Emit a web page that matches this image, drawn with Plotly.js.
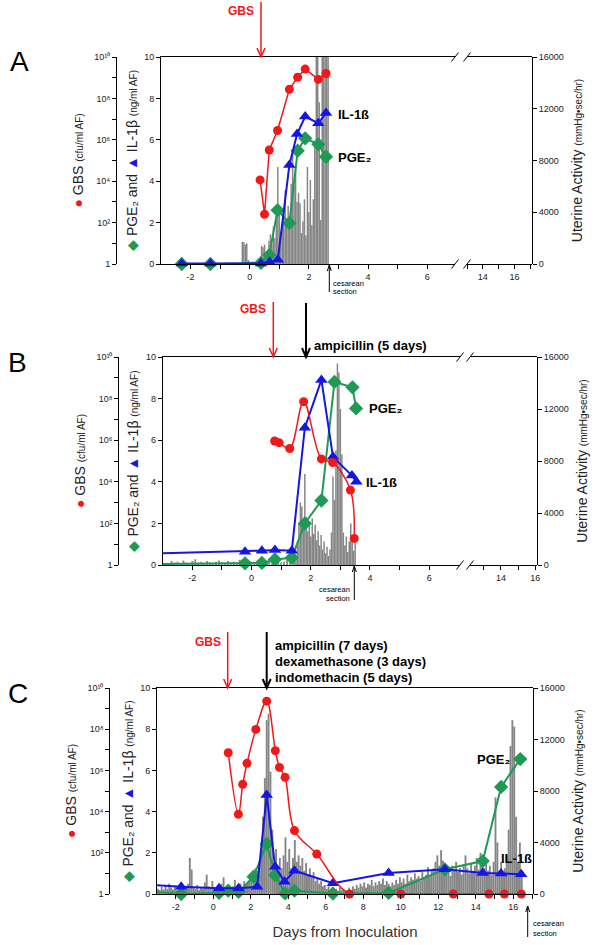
<!DOCTYPE html>
<html><head><meta charset="utf-8">
<script src="https://cdn.plot.ly/plotly-3.0.1.min.js"></script>
<style>html,body{margin:0;padding:0;background:#fff}#chart{width:600px;height:945px}</style>
</head><body><div id="chart"></div>
<script>
// ---------------- DATA ----------------
// Panel A
const gbsDaysA = [0.35, 0.5, 0.66, 0.94, 1.34, 1.62, 1.875, 2.32, 2.58];
const gbsCfuA  = [1.15e4, 2.5e2, 3.2e5, 2.8e6, 2.75e8, 1.05e9, 2.6e9, 8.3e8, 1.6e9];
const ilDaysA  = [-2.3, -1.33, 0.38, 0.67, 0.95, 1.34, 1.6, 1.875, 2.32, 2.58];
const ilValsA  = [0.03, 0.03, 0.03, 0.1, 0.2, 4.78, 6.28, 7.12, 6.8, 7.3];
const pgeDaysA = [-2.3, -1.33, 0.38, 0.66, 0.94, 1.34, 1.62, 1.875, 2.32, 2.58];
const pgeValsA = [0, 0, 0.05, 0.43, 2.6, 1.97, 5.47, 6.07, 5.78, 5.18];
const uaStartA = -0.25, uaStepA = 0.05;
const uaValsA = [1700,1700,1500,1600,300,200,150,200,150,200,250,200,300,1400,1300,1500,800,1000,1800,2300,
  1500,2900,2000,3500,7500,3800,2500,3000,4200,5700,3500,4500,3000,6200,8800,6000,7500,4800,5500,4700,
  2400,3300,5000,2200,7500,4000,6500,3000,5000,9500,16500,16500,12500,3400,16500,16500,16500,16500,16500];

// Panel B
const gbsDaysB = [0.78, 0.93, 1.29, 1.76, 2.36, 2.74, 3.34, 3.47];
const gbsCfuB  = [9.1e5, 7.6e5, 4.0e5, 7.1e7, 1.26e5, 8.5e4, 4.0e3, 19];
const ilDaysB  = [-3, -0.22, 0.35, 0.79, 1.36, 1.8, 2.36, 2.75, 3.39, 3.54];
const ilValsB  = [0.57, 0.64, 0.69, 0.72, 0.69, 6.6, 8.9, 5.2, 4.3, 4.0];
const pgeDaysB = [-3, -0.22, 0.35, 0.79, 1.36, 1.8, 2.36, 2.8, 3.41, 3.53];
const pgeValsB = [0.05, 0.08, 0.1, 0.27, 0.35, 2.0, 3.1, 8.8, 8.54, 7.53];
const uaBaseStartB = -2.8, uaBaseStepB = 0.1;
const uaBaseValsB = [150,300,200,250,100,350,200,150,300,450,200,250,150,300,200,100,250,350,200,150,300,
  200,250,150,400,200,300,150,250,200,350,150,200,300,250,150,200,300,200,250,400,500];
const uaStartB = 1.4, uaStepB = 0.05;
const uaValsB = [700,1100,600,1500,3200,4800,4500,3000,7000,3700,2600,3300,2200,3600,2400,3100,1900,2600,
  1500,2300,1200,1800,900,1400,700,1200,2500,6800,5000,8800,15500,14800,12000,8500,2500,1500,2200,1000,
  1800,3200,1900,1100,2100];

// Panel C
const gbsDaysC = [0.8, 1.34, 1.57, 1.8, 2.27, 2.85, 3.31, 3.53, 3.83, 4.33, 5.52, 7.27, 10.0, 12.8, 14.7, 15.53, 16.43];
const gbsCfuC  = [7.2e6, 7.4e3, 2.1e5, 2.2e6, 9.8e7, 2.3e9, 9.1e6, 1.4e6, 4.6e5, 1.2e3, 87, 1, 1, 1, 1, 1, 1];
const ilDaysC  = [-3, -1.71, 0.31, 1.35, 2.34, 2.85, 3.3, 3.8, 4.33, 6.38, 9.35, 12.35, 14.37, 15.35, 16.42];
const ilValsC  = [0.42, 0.35, 0.28, 0.28, 0.35, 4.8, 1.32, 0.6, 1.13, 0.52, 1.02, 1.2, 1.02, 1.0, 0.96];
const pgeDaysC = [-3, -1.71, 0.31, 0.8, 1.35, 2.15, 2.85, 3.3, 3.83, 4.33, 6.38, 9.35, 12.35, 14.37, 15.35, 16.37];
const pgeValsC = [0.1, 0.0, 0.06, 0.16, 0.1, 0.84, 2.43, 0.92, 0.03, 0.16, 0.02, 0.05, 1.2, 1.6, 5.2, 6.55];
const uaStartC = -2.95, uaStepC = 0.1;
const uaValsC = [400,300,550,350,700,400,800,500,350,600,300,500,400,300,600,450,800,2800,1900,500,
  400,700,300,500,400,900,1500,600,400,1000,500,300,600,400,800,1300,500,400,700,500,
  600,1100,400,600,800,500,1000,700,900,1200,1500,1400,2000,1800,2500,3500,6000,9000,13500,14000,
  9500,5000,2500,3500,1800,2800,2000,3000,4400,2500,3500,2000,2800,4200,2500,3000,2200,2800,1800,2400,
  1500,2000,1300,1700,1000,1200,800,1000,600,700,400,600,300,500,300,400,250,500,300,400,
  200,300,500,300,600,400,700,500,800,600,900,500,800,700,1100,600,900,700,1000,800,
  1200,700,1000,800,600,900,700,1100,800,1300,900,1200,800,1500,1000,1300,1100,1600,1200,1400,
  1000,1700,1300,1500,2100,1400,1800,2000,2500,3000,2200,3400,2600,2000,1600,1900,1400,2200,1800,2500,
  1700,2000,1500,2300,3000,2000,1600,2400,1800,2200,2800,1900,3200,2400,2000,2600,1800,2200,1500,2500,
  7500,4000,1800,2500,1500,2000,3000,5000,11500,13500,13000,6000,2500,4000,1500];

const xLabelVals = [-2, 0, 2, 4, 6];
const xMinorVals = [-1, 1, 3, 5];
const xLabelValsC = [-2, 0, 2, 4, 6, 8, 10, 12, 14, 16];
const xMinorValsC = [-1, 1, 3, 5, 7, 9, 11, 13, 15, 17];
const gbsTickVals = [1, 1e2, 1e4, 1e6, 1e8, 1e10];
const gbsTickText = ['1', '10\u00B2', '10\u2074', '10\u2076', '10\u2078', '10\u00B9\u2070'];
const gbsMinorVals = [1e1, 1e3, 1e5, 1e7, 1e9];
const pgeTickVals = [0, 2, 4, 6, 8, 10];
const uaTickVals = [0, 4000, 8000, 12000, 16000];

// ---------------- STYLE ----------------
const W = 600, H = 945;
const FONT = 'Liberation Sans, Arial, sans-serif';
const RED = '#f01818', BLUE = '#1515e6', GREEN = '#1f9a55', GRAY = '#858585';
const PGE = 'PGE\u2082';
const fx = p => p / W, fy = p => 1 - p / H;
const seq = (start, step, n) => Array.from({length: n}, (_, i) => +(start + i * step).toFixed(4));

function bars(xs, ys, xa, ya, w) {
  return {type: 'bar', x: xs, y: ys, xaxis: xa, yaxis: ya, width: w,
    marker: {color: GRAY, line: {width: 0}}, hoverinfo: 'skip', showlegend: false};
}
function series(xs, ys, xa, ya, color, symbol, size, lw, shape, hideFirst) {
  const sizes = xs.map((_, i) => (hideFirst && i === 0) ? 0 : size);
  return {type: 'scatter', mode: 'lines+markers', x: xs, y: ys, xaxis: xa, yaxis: ya,
    line: {color: color, width: lw, shape: shape || 'linear', smoothing: 1},
    marker: {color: color, symbol: symbol, size: sizes, opacity: 1, line: {width: 0}},
    cliponaxis: false, showlegend: false, hoverinfo: 'skip'};
}
function holder(xa, ya) {
  return {type: 'scatter', mode: 'markers', x: [], y: [], xaxis: xa, yaxis: ya, showlegend: false, hoverinfo: 'skip'};
}

const traces = [
  // A
  bars(seq(uaStartA, uaStepA, uaValsA.length), uaValsA, 'x', 'y', 0.05),
  holder('x2', 'y'),
  series(pgeDaysA, pgeValsA, 'x', 'y2', GREEN, 'diamond', 11, 2),
  series(ilDaysA, ilValsA, 'x', 'y2', BLUE, 'triangle-up', 11, 2),
  series(gbsDaysA, gbsCfuA, 'x', 'y3', RED, 'circle', 9, 1.5),
  // B
  bars(seq(uaBaseStartB, uaBaseStepB, uaBaseValsB.length), uaBaseValsB, 'x3', 'y4', 0.06),
  bars(seq(uaStartB, uaStepB, uaValsB.length), uaValsB, 'x3', 'y4', 0.05),
  holder('x4', 'y4'),
  series(pgeDaysB, pgeValsB, 'x3', 'y5', GREEN, 'diamond', 11, 2, 'linear', true),
  series(ilDaysB, ilValsB, 'x3', 'y5', BLUE, 'triangle-up', 11, 2, 'linear', true),
  series(gbsDaysB, gbsCfuB, 'x3', 'y6', RED, 'circle', 9, 1.5, 'spline'),
  // C
  bars(seq(uaStartC, uaStepC, uaValsC.length), uaValsC, 'x5', 'y7', 0.1),
  series(pgeDaysC, pgeValsC, 'x5', 'y8', GREEN, 'diamond', 11, 2, 'linear', true),
  series(ilDaysC, ilValsC, 'x5', 'y8', BLUE, 'triangle-up', 11, 2, 'linear', true),
  series(gbsDaysC, gbsCfuC, 'x5', 'y9', RED, 'circle', 9, 1.5, 'spline')
];

const tickFont = {family: FONT, size: 9, color: '#222'};
const minorTicks = vals => ({tickmode: 'array', tickvals: vals, ticks: 'outside', ticklen: 4, tickwidth: 1, tickcolor: '#000', showgrid: false});
const axBase = {showline: true, linecolor: '#000', linewidth: 1, ticks: 'outside', ticklen: 4,
  tickwidth: 1, tickcolor: '#000', showgrid: false, zeroline: false, tickfont: tickFont,
  automargin: false, fixedrange: true};

function xax(left, right, range, anchor, vals, minor) {
  return Object.assign({}, axBase, {domain: [fx(left), fx(right)], range: range, anchor: anchor,
    tickmode: 'array', tickvals: vals, ticktext: vals.map(String), minor: minorTicks(minor), mirror: true});
}
function uaAx(top, bottom, pos) {
  return Object.assign({}, axBase, {domain: [fy(bottom), fy(top)], range: [0, 16000], anchor: 'free',
    position: fx(pos), side: 'right', tickmode: 'array', tickvals: uaTickVals,
    ticktext: uaTickVals.map(String),
    title: {text: 'Uterine Activity <span style="font-size:10px">(mmHg\u2022sec/hr)</span>',
      font: {family: FONT, size: 14, color: '#222'}, standoff: 9}});
}
function pgeAx(base, anchor) {
  return Object.assign({}, axBase, {overlaying: base, anchor: anchor, side: 'left', range: [0, 10],
    tickmode: 'array', tickvals: pgeTickVals, ticktext: pgeTickVals.map(String),
    title: {text: '<span style="color:' + GREEN + '">\u25C6</span> ' + PGE + ' and <span style="color:' + BLUE + '">\u25B2</span> IL-1\u03B2 <span style="font-size:10px">(ng/ml AF)</span>',
      font: {family: FONT, size: 14, color: '#222'}, standoff: 3}});
}
function gbsAx(base, pos) {
  return Object.assign({}, axBase, {overlaying: base, anchor: 'free', position: fx(pos), side: 'left',
    type: 'log', range: [0, 10], tickmode: 'array', tickvals: gbsTickVals, ticktext: gbsTickText,
    minor: minorTicks(gbsMinorVals),
    title: {text: '<span style="color:' + RED + '">\u25CF</span> GBS <span style="font-size:10px">(cfu/ml AF)</span>',
      font: {family: FONT, size: 14, color: '#222'}, standoff: 6}});
}

const layout = {
  width: W, height: H, margin: {l: 0, r: 0, t: 0, b: 0}, paper_bgcolor: '#fff', plot_bgcolor: 'rgba(0,0,0,0)',
  showlegend: false, font: {family: FONT, color: '#222'},
  // Panel A
  xaxis: xax(161, 455, [-3, 6.94], 'y', xLabelVals, xMinorVals),
  xaxis2: xax(467, 532, [13, 17.1], 'y', [14, 16], [13, 15, 17]),
  yaxis: uaAx(57, 264, 532),
  yaxis2: pgeAx('y', 'x'),
  yaxis3: gbsAx('y', 116),
  // Panel B
  xaxis3: xax(162.7, 460, [-3, 7.04], 'y4', xLabelVals, xMinorVals),
  xaxis4: xax(470, 537, [12.2, 16.1], 'y4', [14, 16], [13, 15]),
  yaxis4: uaAx(357, 565, 537),
  yaxis5: pgeAx('y4', 'x3'),
  yaxis6: gbsAx('y4', 118.3),
  // Panel C
  xaxis5: Object.assign(xax(157, 533, [-3, 17.05], 'y7', xLabelValsC, xMinorValsC),
    {title: {text: 'Days from Inoculation', font: {family: FONT, size: 15, color: '#333'}, standoff: 15}}),
  yaxis7: uaAx(688, 894, 533),
  yaxis8: pgeAx('y7', 'x5'),
  yaxis9: gbsAx('y7', 109.3)
};

// break marks and arrows (shapes)
const shapes = [];
function seg(x0, y0, x1, y1, color, width) {
  shapes.push({type: 'line', xref: 'paper', yref: 'paper', x0: fx(x0), y0: fy(y0), x1: fx(x1), y1: fy(y1),
    line: {color: color, width: width}});
}
function slash(cx, cy) { seg(cx - 3.5, cy + 4.5, cx + 3.5, cy - 4.5, '#000', 1); }
[[455, 57], [467, 57], [455, 264], [467, 264], [460, 357], [470, 357], [460, 565], [470, 565]]
  .forEach(p => slash(p[0], p[1]));
function arrow(x, yTip, yTail, color, width, hw, hh) {
  seg(x, yTail, x, yTip, color, width);
  const dir = yTail < yTip ? -1 : 1;
  const path = 'M' + fx(x - hw) + ',' + fy(yTip + dir * hh) + ' L' + fx(x) + ',' + fy(yTip) +
    ' L' + fx(x + hw) + ',' + fy(yTip + dir * hh);
  shapes.push({type: 'path', xref: 'paper', yref: 'paper', path: path, line: {color: color, width: width}});
}
arrow(261, 57, 2, RED, 1.5, 4, 9);
arrow(329.3, 265, 292, '#000', 1, 2, 6);
arrow(273.3, 357, 302, RED, 1.5, 4, 9);
arrow(306, 357, 303, '#000', 2, 4, 9);
arrow(354.3, 566, 600, '#000', 1, 2, 6);
arrow(227.7, 688, 632, RED, 1.5, 4, 9);
arrow(266.7, 688, 632, '#000', 2, 4, 9);
arrow(527.7, 906, 937, '#000', 1, 2, 6);
layout.shapes = shapes;

// annotations
const ann = [];
function txt(s, x, y, size, opts) {
  ann.push(Object.assign({text: s, x: fx(x), y: fy(y), xref: 'paper', yref: 'paper', showarrow: false,
    xanchor: 'left', yanchor: 'middle', font: {family: FONT, size: size, color: '#000'}}, opts || {}));
}
// panel letters
txt('A', 8, 61, 28); txt('B', 6, 363, 28); txt('C', 6, 693, 28);
// A
txt('<b>GBS</b>', 256, 11, 12, {xanchor: 'right', font: {family: FONT, size: 12, color: RED}});
txt('<b>IL-1\u00DF</b>', 336, 114, 13);
txt('<b>' + PGE + '</b>', 336, 157, 13);
txt('cesarean', 331, 283, 7.5); txt('section', 331, 292, 7.5);
// B
txt('<b>GBS</b>', 268, 309, 12, {xanchor: 'right', font: {family: FONT, size: 12, color: RED}});
txt('<b>ampicillin (5 days)</b>', 312, 346, 13);
txt('<b>' + PGE + '</b>', 367, 408, 13);
txt('<b>IL-1\u00DF</b>', 364, 483, 13);
txt('cesarean', 352, 589, 7.5, {xanchor: 'right'}); txt('section', 352, 598, 7.5, {xanchor: 'right'});
// C
txt('<b>GBS</b>', 223, 642, 12, {xanchor: 'right', font: {family: FONT, size: 12, color: RED}});
txt('<b>ampicillin (7 days)</b>', 273, 645, 13);
txt('<b>dexamethasone (3 days)</b>', 273, 661, 13);
txt('<b>indomethacin (5 days)</b>', 273, 677, 13);
txt('<b>' + PGE + '</b>', 475, 759, 13);
txt('<b>IL-1\u00DF</b>', 499, 858, 13);
txt('cesarean', 531, 923, 7.5); txt('section', 531, 933, 7.5);
layout.annotations = ann;

Plotly.newPlot('chart', traces, layout, {staticPlot: true, displayModeBar: false});
</script></body></html>
